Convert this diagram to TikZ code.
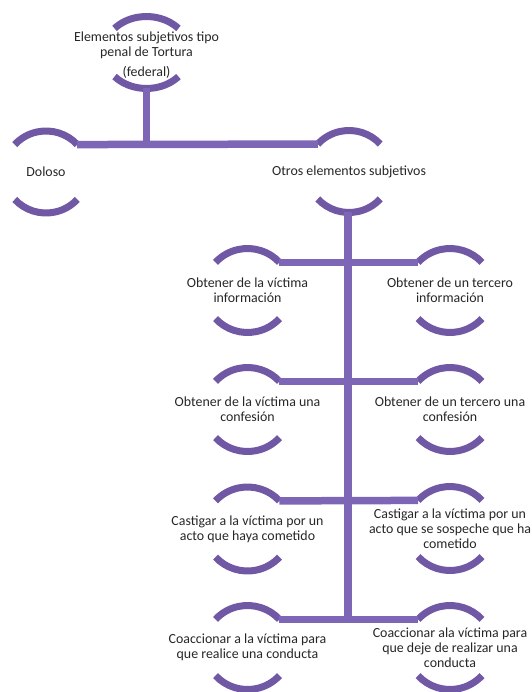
\documentclass[tikz,border=0pt]{standalone}
\usepackage{fontspec}
\setmainfont{Carlito}
\usetikzlibrary{calc}
\definecolor{arcpurple}{RGB}{112,88,165}
\definecolor{linepurple}{RGB}{124,102,181}
\tikzset{
  arcst/.style={draw=arcpurple,line width=7pt},
  conn/.style={draw=linepurple,line width=7.5pt},
  lbl/.style={align=center,font=\fontsize{13.9}{15}\selectfont,inner sep=0pt,text=black!85}
}
% #1 node name, #2 x radius, #3 y radius, #4 vertical offset of the arcs' centre
\newcommand\mkhalf[4]{%
  \coordinate (#1-c) at ($(#1.center)+(0,#4pt)$);
  \coordinate (#1-tr) at ($(#1-c)+(42:#2pt and #3pt)$);
  \coordinate (#1-tl) at ($(#1-c)+(138:#2pt and #3pt)$);
  \coordinate (#1-bl) at ($(#1-c)+(222:#2pt and #3pt)$);
  \coordinate (#1-b) at ($(#1-c)+(270:#2pt and #3pt)$);
  \draw[arcst] (#1-tr) arc[start angle=42,end angle=138,x radius=#2pt,y radius=#3pt];
  \draw[arcst] (#1-bl) arc[start angle=222,end angle=318,x radius=#2pt,y radius=#3pt];
}
\begin{document}
\begin{tikzpicture}[x=1pt,y=1pt]
\useasboundingbox (0,0) rectangle (531,-692);
\node[lbl] (top) at (146.5,-55) {Elementos subjetivos tipo\\penal de Tortura\\[5pt](federal)};
\node[lbl] (dol) at (46,-172) {Doloso};
\node[lbl] (otr) at (349,-171.5) {Otros elementos subjetivos};
\node[lbl] (r1l) at (247.5,-290.5) {Obtener de la víctima\\información};
\node[lbl] (r1r) at (450,-290.5) {Obtener de un tercero\\información};
\node[lbl] (r2l) at (247.5,-409.5) {Obtener de la víctima una\\confesión};
\node[lbl] (r2r) at (450,-409.5) {Obtener de un tercero una\\confesión};
\node[lbl] (r3l) at (247.5,-529) {Castigar a la víctima por un\\acto que haya cometido};
\node[lbl] (r3r) at (450,-528.5) {Castigar a la víctima por un\\acto que se sospeche que ha\\cometido};
\node[lbl] (r4l) at (247.5,-647.5) {Coaccionar a la víctima para\\que realice una conducta};
\node[lbl] (r4r) at (450,-647.5) {Coaccionar ala víctima para\\que deje de realizar una\\conducta};
\mkhalf{top}{43}{36}{2.5}
\mkhalf{dol}{42}{41}{0}
\mkhalf{otr}{42}{41}{0}
\foreach \n in {r1l,r1r,r2l,r2r,r3l,r3r,r4l,r4r}{\mkhalf{\n}{43}{42}{0}}
\draw[conn] (top-b) -- (top-b |- dol-tr);
\draw[conn] (dol-tr) -- (otr-tl);
\draw[conn] ([xshift=-1pt]otr-b) -- ([xshift=-1pt]otr-b |- r4l-tr);
\draw[conn] (r1l-tr) -- (r1r-tl);
\draw[conn] (r2l-tr) -- (r2r-tl);
\draw[conn] (r3l-tr) -- (r3r-tl);
\draw[conn] (r4l-tr) -- (r4r-tl);
\end{tikzpicture}
\end{document}
